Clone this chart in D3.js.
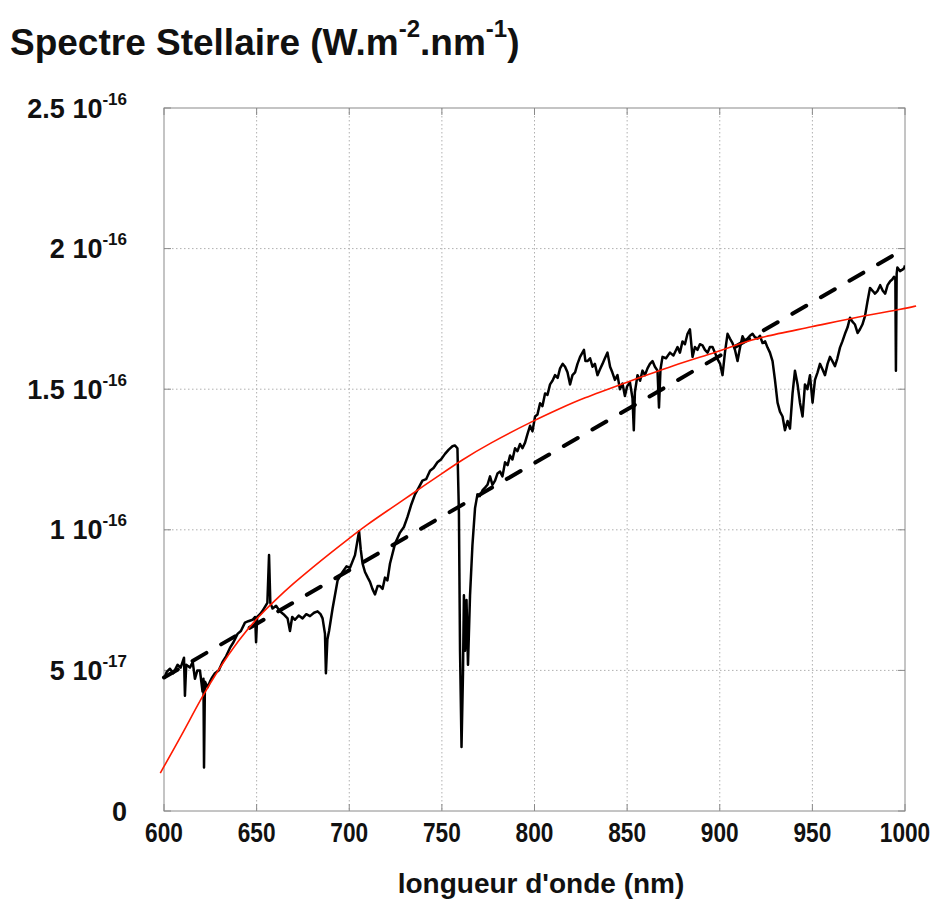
<!DOCTYPE html>
<html>
<head>
<meta charset="utf-8">
<script src="https://cdn.jsdelivr.net/npm/d3@7"></script>
<style>
  body { margin: 0; background: #fff; }
  text { font-family: "Liberation Sans", Arial, Helvetica, sans-serif; font-weight: bold; fill: #111; }
</style>
</head>
<body>
<div id="chart"></div>
<script>
// flux values are in units of 1e-17 W.m-2.nm-1
const wavelength = [600,601.5,603.2,605,607.3,609,610.8,611.3,612,614,615.5,616.7,618,619.4,620.8,621.3,621.6,622.1,623.5,624.8,626,627.5,629.5,631.6,633.5,635.6,637.5,639.7,641.5,643.7,645.5,647.8,649.2,649.7,650.3,651.8,653,654.5,655.8,656.7,657.4,658.6,660.5,662.6,664.5,666.7,668,669.2,670.7,672.7,674.8,676.8,678.8,681,682.9,684.5,685.6,686.9,687.4,688.2,689.1,691,693.7,696.4,698.5,700.4,703.1,705.3,706.2,707.2,708.5,710,711.2,712.5,713.9,715.3,716.6,718,719.3,720.6,722,724.7,727.4,729.5,731.4,733.5,735.5,737.5,739.5,741.5,743.6,745.5,747.6,749.5,751.7,753.7,755.7,757,758.4,759.2,759.8,760.6,761.4,761.9,762.5,763.3,764.1,765.2,766.5,767.9,769.2,770.5,771.9,773.3,774.6,776,777.3,778.7,780,781.4,782.7,784.1,785.5,786.8,788.1,789.5,790.8,792.2,793.5,794.9,796.2,797.6,798.9,800.3,801.6,803,804.3,805.7,807,808.4,809.7,811.1,812.5,813.8,815.2,816.5,817.8,819.2,820.5,821.9,823.2,824.6,826.7,827.5,828.6,830,831.3,832.6,834,835.3,836.7,838,839.4,840.8,842,843.4,844.8,846.1,847.5,848.8,850,851.5,852.9,853.6,854.2,855.6,857,858.3,859.6,861,862.3,863.7,865,866.4,867.2,868,869.1,871,873.1,875,877.2,878.5,879.9,881.2,882.6,883.9,885.3,886.6,888,889.3,890.7,892,893.4,894.7,896.1,897.4,898.8,900.2,901.5,902.8,904.2,905.5,906.9,908.2,909.6,911,912.3,913.6,915,916.3,917.7,919,920.4,921.7,923.1,924.5,925.8,927.1,928.5,929.8,931.2,932.5,933.9,935.2,936.6,937.9,939.3,940.6,942,943.3,944.7,946,947.3,948.7,950.1,951.4,952.8,954.1,955.5,956.8,958.2,959.5,960.8,962.2,963.5,964.9,966.2,967.6,969,970.3,971.6,973,974.4,975.7,977,978.4,979.7,981.1,982.5,983.8,985.2,986.6,988,989.3,990.6,992,993.1,994.1,994.8,995.1,995.5,995.9,997.3,998.6,999.5,1000];
const flux = [4.7,4.95,5.06,4.9,5.2,5.1,5.45,4.1,5.2,5.1,5.3,4.7,5.0,5.0,4.25,4.7,1.55,4.6,4.4,4.6,4.75,4.9,5.0,5.3,5.5,5.8,6.0,6.3,6.4,6.7,6.75,6.8,6.9,6.0,6.9,7.0,7.1,7.26,7.4,9.1,7.4,7.2,7.3,7.1,7.0,6.85,6.4,6.9,6.8,6.95,6.85,7.0,6.93,7.05,7.1,7.0,6.85,6.3,4.9,6.1,6.4,7.2,8.2,8.5,8.7,8.65,9.1,9.95,9.3,8.8,8.5,8.3,8.15,7.9,7.7,8.0,8.0,7.9,8.3,8.2,8.8,9.5,9.9,10.1,10.45,10.9,11.26,11.5,11.75,11.8,12.1,12.2,12.4,12.5,12.7,12.85,12.97,13.0,12.9,10.6,5.7,2.28,4.9,7.67,5.7,7.5,5.2,7.67,9.46,10.77,11.26,11.2,11.4,11.5,11.6,11.9,11.6,11.75,12.0,12.07,11.9,12.4,12.3,12.64,12.5,12.9,12.8,13.05,12.9,13.1,13.4,13.7,13.5,14.03,14.1,14.5,14.4,14.85,14.8,15.17,15.3,15.5,15.4,15.74,15.9,15.8,15.6,15.17,15.5,15.6,15.9,16.15,16.4,16.0,16.0,16.1,15.8,15.9,15.5,15.7,15.9,16.1,16.3,15.8,15.6,15.33,15.5,15.0,15.2,14.76,15.1,15.25,14.68,13.54,14.9,15.5,15.3,15.66,15.5,15.74,15.9,16.0,15.8,15.66,14.35,15.7,16.15,16.1,16.3,16.2,16.5,16.3,16.7,16.6,16.97,17.13,16.15,16.5,16.4,16.6,16.56,16.4,16.3,16.5,16.5,16.3,16.07,15.9,15.5,16.3,16.97,16.8,16.64,16.4,16.0,16.5,16.88,16.7,16.8,16.9,16.97,16.85,16.8,16.9,16.64,16.7,16.48,16.3,16.0,15.33,14.52,14.2,14.03,13.54,13.87,13.6,14.85,15.66,15.17,14.52,14.03,15.17,15.0,15.5,14.52,15.33,15.6,15.9,15.7,15.5,15.9,16.15,16.0,15.82,16.1,16.48,16.7,16.97,17.2,17.54,17.4,17.3,17.0,17.13,17.3,17.6,18.1,18.6,18.5,18.4,18.5,18.7,18.5,18.4,18.7,18.84,18.9,19.0,18.9,15.66,19.1,19.33,19.2,19.25,19.3,19.4];

// red fitted curve
const fitWavelength = [598,610,620,630,640,650,660,670,680,690,700,710,720,730,740,750,760,775,800,814,825,850,875,900,911,922,950,975,1000,1006];
const fitFlux = [1.35,2.75,4.0,5.1,6.05,6.85,7.5,8.1,8.65,9.18,9.7,10.2,10.65,11.1,11.55,12.0,12.45,13.05,13.9,14.32,14.65,15.25,15.85,16.35,16.63,16.85,17.22,17.58,17.87,17.96];

// dashed linear trend
const trendWavelength = [600, 1000];
const trendFlux = [4.75, 20.0];

const xTicks = [600,650,700,750,800,850,900,950,1000];
const yTicks = [0,5,10,15,20,25];
const yTickMantissa = ["0","5","1","1.5","2","2.5"];
const yTickExponent = ["","-17","-16","-16","-16","-16"];

const W = 931, H = 911;
const plot = {left: 164, right: 905, top: 108, bottom: 811};

const svg = d3.select('#chart').append('svg')
    .attr('width', W)
    .attr('height', H);

const x = d3.scaleLinear().domain([600, 1000]).range([plot.left, plot.right]);
const y = d3.scaleLinear().domain([0, 25]).range([plot.bottom, plot.top]);

// grid
const grid = svg.append('g');
grid.selectAll('.vg').data(xTicks.slice(1, -1)).enter().append('line')
    .attr('x1', d => x(d)).attr('x2', d => x(d))
    .attr('y1', plot.top).attr('y2', plot.bottom)
    .attr('stroke', '#b0b0b0').attr('stroke-width', 1).attr('stroke-dasharray', '1.5,2.5');
grid.selectAll('.hg').data(yTicks.slice(1, -1)).enter().append('line')
    .attr('x1', plot.left).attr('x2', plot.right)
    .attr('y1', d => y(d)).attr('y2', d => y(d))
    .attr('stroke', '#b0b0b0').attr('stroke-width', 1).attr('stroke-dasharray', '1.5,2.5');

// frame
svg.append('rect')
    .attr('x', plot.left).attr('y', plot.top)
    .attr('width', plot.right - plot.left).attr('height', plot.bottom - plot.top)
    .attr('fill', 'none').attr('stroke', '#8a8a8a').attr('stroke-width', 1);

// inward ticks on all sides
const tickLen = 7;
const ticks = svg.append('g').attr('stroke', '#8a8a8a').attr('stroke-width', 1);
xTicks.forEach(d => {
    ticks.append('line').attr('x1', x(d)).attr('x2', x(d)).attr('y1', plot.bottom).attr('y2', plot.bottom - tickLen);
    ticks.append('line').attr('x1', x(d)).attr('x2', x(d)).attr('y1', plot.top).attr('y2', plot.top + tickLen);
});
yTicks.forEach(d => {
    ticks.append('line').attr('x1', plot.left).attr('x2', plot.left + tickLen).attr('y1', y(d)).attr('y2', y(d));
    ticks.append('line').attr('x1', plot.right).attr('x2', plot.right - tickLen).attr('y1', y(d)).attr('y2', y(d));
});

// x tick labels (slightly condensed like the original)
svg.append('g').selectAll('text').data(xTicks).enter().append('text')
    .attr('transform', d => `translate(${x(d)},${plot.bottom + 31}) scale(0.84,1)`)
    .attr('text-anchor', 'middle')
    .attr('font-size', 27)
    .text(d => d);

// y tick labels: mantissa 10^exponent
const yl = svg.append('g').selectAll('text').data(yTicks).enter().append('text')
    .attr('x', 127)
    .attr('y', d => y(d) + 9.5)
    .attr('text-anchor', 'end')
    .attr('font-size', 27);
yl.each(function(d, i) {
    const t = d3.select(this);
    if (yTickExponent[i] === '') {
        t.text(yTickMantissa[i]);
    } else {
        t.append('tspan').text(yTickMantissa[i] + ' 10');
        t.append('tspan').attr('dy', -13).attr('font-size', 17).text(yTickExponent[i]);
    }
});

// title
const title = svg.append('text')
    .attr('x', 10).attr('y', 55)
    .attr('font-size', 37);
title.append('tspan').text('Spectre Stellaire (W.m');
title.append('tspan').attr('dy', -18).attr('font-size', 24).text('-2');
title.append('tspan').attr('dy', 18).text('.nm');
title.append('tspan').attr('dy', -18).attr('font-size', 24).text('-1');
title.append('tspan').attr('dy', 18).text(')');

// x axis title
svg.append('text')
    .attr('x', 541).attr('y', 893)
    .attr('text-anchor', 'middle')
    .attr('font-size', 28)
    .text("longueur d'onde (nm)");

// clip for spectrum
svg.append('clipPath').attr('id', 'clip').append('rect')
    .attr('x', plot.left).attr('y', plot.top)
    .attr('width', plot.right - plot.left).attr('height', plot.bottom - plot.top);

const specLine = d3.line().x(d => x(d[0])).y(d => y(d[1]));
svg.append('path')
    .datum(wavelength.map((w, i) => [w, flux[i]]))
    .attr('clip-path', 'url(#clip)')
    .attr('d', specLine)
    .attr('fill', 'none')
    .attr('stroke', '#000')
    .attr('stroke-width', 2.5)
    .attr('stroke-linejoin', 'round');

// dashed trend
svg.append('path')
    .datum(trendWavelength.map((w, i) => [w, trendFlux[i]]))
    .attr('d', specLine)
    .attr('fill', 'none')
    .attr('stroke', '#000')
    .attr('stroke-width', 4)
    .attr('stroke-linecap', 'round')
    .attr('stroke-dasharray', '16,17');

// fitted curve
const fitLine = d3.line().x(d => x(d[0])).y(d => y(d[1])).curve(d3.curveBasis);
svg.append('path')
    .datum(fitWavelength.map((w, i) => [w, fitFlux[i]]))
    .attr('d', fitLine)
    .attr('fill', 'none')
    .attr('stroke', '#ff1a00')
    .attr('stroke-width', 1.6);
</script>
</body>
</html>
